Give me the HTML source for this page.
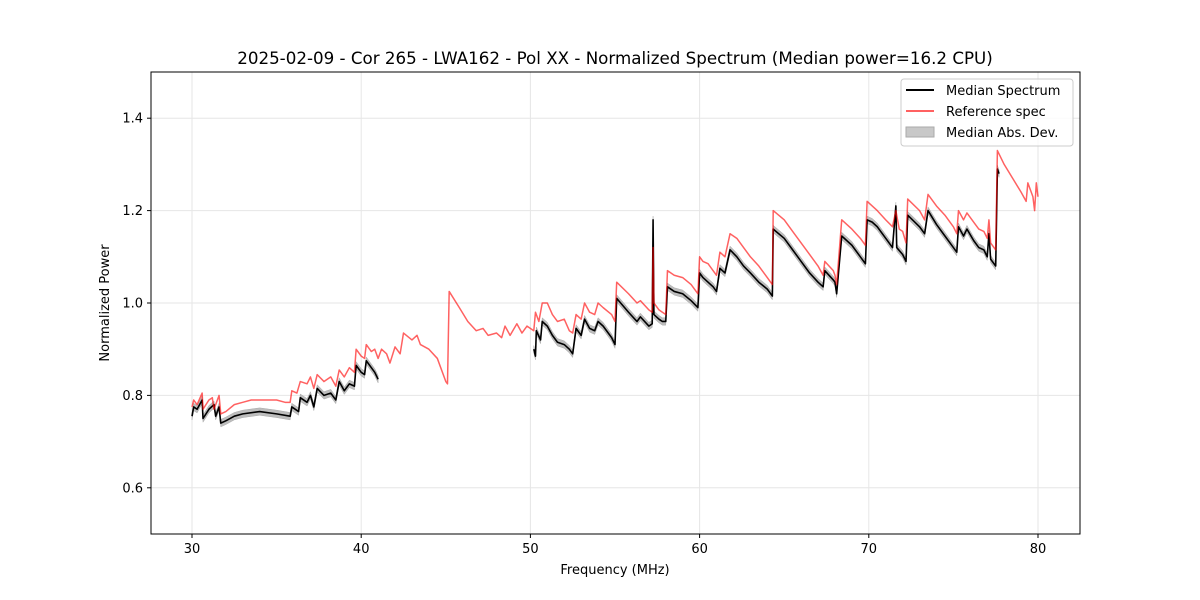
<!DOCTYPE html>
<html><head><meta charset="utf-8"><style>
body{margin:0;background:#fff;}
svg{display:block;font-family:"DejaVu Sans","Liberation Sans",sans-serif;}
</style></head><body>
<svg id="chart" width="1200" height="600">
<rect width="1200" height="600" fill="#fff"/>
<text x="615" y="64" text-anchor="middle" font-size="16.7">2025-02-09 - Cor 265 - LWA162 - Pol XX - Normalized Spectrum (Median power=16.2 CPU)</text>
<g id="grid"></g><g id="marks"></g>
<rect x="151" y="72" width="929" height="462" fill="none" stroke="#000" stroke-width="1"/>
<g id="axes" font-size="13"></g>
<text x="615" y="574" text-anchor="middle" font-size="13">Frequency (MHz)</text>
<text transform="translate(109,303) rotate(-90)" text-anchor="middle" font-size="13">Normalized Power</text>
<g>
<rect x="901" y="79" width="172" height="67" rx="3" fill="#fff" fill-opacity="0.8" stroke="#ccc"/>
<line x1="906" y1="90" x2="934" y2="90" stroke="#000" stroke-width="2"/>
<text x="946" y="95" font-size="13">Median Spectrum</text>
<line x1="906" y1="111" x2="934" y2="111" stroke="#ff0000" stroke-opacity="0.62" stroke-width="2"/>
<text x="946" y="116" font-size="13">Reference spec</text>
<rect x="906" y="127" width="28" height="10" fill="#c8c8c8" stroke="#aaa"/>
<text x="946" y="137" font-size="13">Median Abs. Dev.</text>
</g>
</svg>
<script>
const xTicks=[30,40,50,60,70,80];
const yTicks=[0.6,0.8,1.0,1.2,1.4];
const refFreq=[30.0,30.1,30.3,30.6,30.65,31.0,31.2,31.3,31.6,31.7,32.0,32.5,33.0,33.5,34.0,35.0,35.5,35.8,35.9,36.2,36.4,36.8,37.0,37.2,37.4,37.8,38.2,38.5,38.7,39.0,39.3,39.6,39.7,40.0,40.2,40.3,40.6,40.8,41.0,41.2,41.5,41.7,42.0,42.3,42.5,43.0,43.3,43.5,44.0,44.5,45.0,45.1,45.2,45.8,46.3,46.8,47.2,47.5,48.0,48.3,48.5,48.8,49.2,49.5,49.8,50.2,50.3,50.5,50.7,51.0,51.3,51.6,52.0,52.3,52.5,52.7,53.0,53.2,53.5,53.8,54.0,54.3,54.8,55.0,55.1,55.8,56.3,56.5,57.0,57.2,57.25,57.3,57.6,57.8,58.0,58.1,58.5,59.0,59.5,59.9,60.0,60.2,60.5,60.8,61.0,61.2,61.5,61.8,62.2,62.6,63.0,63.5,64.0,64.3,64.35,65.0,65.5,66.0,66.5,67.0,67.3,67.4,67.9,68.0,68.1,68.4,69.0,69.5,69.8,69.9,70.2,70.5,71.0,71.4,71.6,71.8,72.0,72.2,72.3,73.0,73.3,73.5,74.0,74.5,75.0,75.2,75.3,75.6,75.8,76.2,76.5,76.8,77.0,77.1,77.2,77.5,77.6,78.0,78.5,79.0,79.3,79.4,79.7,79.8,79.9,80.0];
const refPower=[0.775,0.79,0.78,0.805,0.77,0.79,0.795,0.77,0.8,0.76,0.765,0.78,0.785,0.79,0.79,0.79,0.785,0.785,0.81,0.805,0.83,0.825,0.84,0.815,0.845,0.83,0.84,0.82,0.855,0.84,0.86,0.85,0.9,0.885,0.88,0.91,0.895,0.9,0.88,0.9,0.89,0.87,0.905,0.89,0.935,0.92,0.93,0.91,0.9,0.88,0.83,0.825,1.025,0.99,0.96,0.94,0.945,0.93,0.935,0.925,0.95,0.93,0.955,0.935,0.95,0.94,0.98,0.96,1.0,1.0,0.975,0.96,0.965,0.94,0.935,0.975,0.965,1.0,0.98,0.975,1.0,0.99,0.975,0.96,1.045,1.02,1.0,1.005,0.985,0.98,1.12,1.0,0.985,0.98,0.975,1.07,1.06,1.055,1.04,1.02,1.1,1.09,1.085,1.07,1.06,1.11,1.1,1.15,1.14,1.12,1.1,1.08,1.055,1.04,1.2,1.18,1.155,1.13,1.105,1.08,1.06,1.09,1.07,1.06,1.04,1.18,1.16,1.14,1.125,1.22,1.21,1.2,1.18,1.165,1.2,1.16,1.155,1.13,1.225,1.2,1.18,1.235,1.21,1.19,1.165,1.15,1.2,1.18,1.195,1.175,1.16,1.155,1.14,1.18,1.13,1.115,1.33,1.3,1.27,1.24,1.22,1.26,1.23,1.2,1.26,1.23];
const medFreq=[30.0,30.1,30.3,30.6,30.65,31.0,31.3,31.4,31.6,31.7,32.0,32.5,33.0,34.0,35.0,35.8,35.9,36.3,36.4,36.8,37.0,37.2,37.4,37.8,38.2,38.5,38.7,39.0,39.3,39.6,39.7,40.0,40.2,40.3,40.6,40.8,41.0,null,50.2,50.3,50.35,50.6,50.7,51.0,51.3,51.6,52.0,52.3,52.5,52.7,53.0,53.2,53.5,53.8,54.0,54.3,54.8,55.0,55.1,55.8,56.3,56.5,57.0,57.2,57.25,57.3,57.6,57.8,58.0,58.1,58.5,59.0,59.5,59.9,60.0,60.2,60.5,60.8,61.0,61.2,61.5,61.8,62.2,62.6,63.0,63.5,64.0,64.3,64.35,65.0,65.5,66.0,66.5,67.0,67.3,67.4,67.9,68.0,68.1,68.4,69.0,69.5,69.8,69.9,70.2,70.5,71.0,71.4,71.6,71.65,72.0,72.2,72.3,73.0,73.3,73.5,74.0,74.5,75.0,75.2,75.3,75.6,75.8,76.2,76.5,76.8,77.0,77.1,77.2,77.5,77.6,77.7];
const medPower=[0.755,0.775,0.77,0.79,0.75,0.77,0.78,0.755,0.775,0.74,0.745,0.755,0.76,0.765,0.76,0.755,0.775,0.765,0.795,0.785,0.8,0.775,0.815,0.8,0.805,0.79,0.83,0.81,0.825,0.82,0.865,0.85,0.845,0.875,0.86,0.85,0.835,null,0.9,0.885,0.94,0.92,0.96,0.95,0.93,0.915,0.91,0.9,0.89,0.945,0.93,0.965,0.945,0.94,0.96,0.95,0.925,0.91,1.01,0.98,0.96,0.97,0.95,0.955,1.18,0.975,0.965,0.96,0.96,1.035,1.025,1.02,1.005,0.99,1.065,1.055,1.045,1.035,1.025,1.075,1.065,1.115,1.1,1.08,1.065,1.045,1.03,1.015,1.16,1.14,1.115,1.09,1.065,1.045,1.035,1.07,1.05,1.045,1.02,1.145,1.125,1.1,1.085,1.18,1.175,1.165,1.14,1.12,1.21,1.12,1.105,1.09,1.19,1.165,1.15,1.2,1.17,1.145,1.12,1.11,1.165,1.145,1.16,1.135,1.12,1.115,1.1,1.15,1.095,1.08,1.29,1.28];
const madWidth=0.008;
const NS='http://www.w3.org/2000/svg';
const X0=151,X1=1080,Y0=534,Y1=72;
const sx=v=>192+(v-30)*(1038-192)/50;
const sy=v=>534-(v-0.5)*(534-72);
function mk(tag,attrs,parent){const e=document.createElementNS(NS,tag);for(const k in attrs)e.setAttribute(k,attrs[k]);parent.appendChild(e);return e;}
const grid=document.getElementById('grid'),axes=document.getElementById('axes'),marks=document.getElementById('marks');
xTicks.forEach(t=>{const x=sx(t);
 const g=mk('line',{x1:x,x2:x,y1:Y1,y2:Y0,stroke:'#e6e6e6'},grid);
 
 
 mk('line',{x1:x,x2:x,y1:Y0,y2:Y0+4,stroke:'#000'},axes);
 const tx=mk('text',{x:x,y:Y0+19,'text-anchor':'middle'},axes);tx.textContent=t;
 
 });
yTicks.forEach(t=>{const y=sy(t);
 const g=mk('line',{x1:X0,x2:X1,y1:y,y2:y,stroke:'#e6e6e6'},grid);
 
 
 mk('line',{x1:X0-4,x2:X0,y1:y,y2:y,stroke:'#000'},axes);
 const tx=mk('text',{x:X0-8,y:y+4.5,'text-anchor':'end'},axes);tx.textContent=t.toFixed(1);
 
 });
function segments(fs,ps){const out=[];let cur=[];fs.forEach((f,i)=>{if(f===null||ps[i]===null){if(cur.length)out.push(cur);cur=[];}else cur.push([f,ps[i]]);});if(cur.length)out.push(cur);return out;}
segments(medFreq,medPower).forEach(seg=>{
 const up=seg.map(p=>sx(p[0])+','+sy(p[1]+madWidth));
 const dn=seg.slice().reverse().map(p=>sx(p[0])+','+sy(p[1]-madWidth));
 const b=mk('polygon',{points:up.concat(dn).join(' '),fill:'#bdbdbd',stroke:'#aaa','stroke-width':0.5},marks);
 
 });
segments(medFreq,medPower).forEach(seg=>{
 const l=mk('polyline',{points:seg.map(p=>sx(p[0])+','+sy(p[1])).join(' '),fill:'none',stroke:'#000','stroke-width':1.6,'stroke-linejoin':'round'},marks);
 
 });
const r=mk('polyline',{points:refFreq.map((f,i)=>sx(f)+','+sy(refPower[i])).join(' '),fill:'none',stroke:'#ff0000','stroke-opacity':0.62,'stroke-width':1.5,'stroke-linejoin':'round'},marks);


</script>
</body></html>
